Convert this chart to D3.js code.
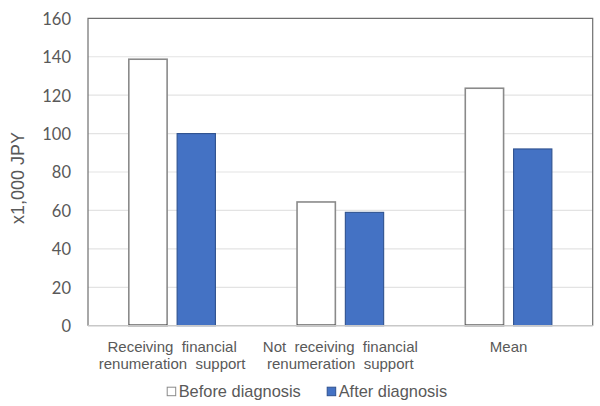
<!DOCTYPE html>
<html><head><meta charset="utf-8">
<script src="https://cdn.jsdelivr.net/npm/d3@7"></script>
<style>body{margin:0;background:#fff}svg{display:block}</style>
</head><body>
<script>
const categories = [["Receiving  financial","renumeration  support"],["Not  receiving  financial","renumeration  support"],["Mean"]];
const categoryKeys = ["Receiving","NotReceiving","Mean"];
const seriesNames = ["Before diagnosis","After diagnosis"];
const beforeValues = [138.7, 64.4, 123.6];
const afterValues = [100.0, 59.0, 92.0];
const yTicks = [0,20,40,60,80,100,120,140,160];
const yTitle = "x1,000 JPY";

const W=600,H=406;
const svg=d3.select("body").append("svg").attr("width",W).attr("height",H);
const L=88,R=592.7,T=18.3,B=325.7;
const y=d3.scaleLinear().domain([0,160]).range([B,T]);
const x0=d3.scaleBand().domain(categoryKeys).range([L,R]).paddingInner(0).paddingOuter(0);
const x1=d3.scaleBand().domain(seriesNames).range([0,x0.bandwidth()]).paddingInner(0.207).paddingOuter(0.845);
const textCol="#595959";

// gridlines
svg.append("g").selectAll("line").data(yTicks.filter(d=>d>0&&d<160)).join("line")
 .attr("x1",L).attr("x2",R).attr("y1",d=>y(d)).attr("y2",d=>y(d))
 .attr("stroke","#e3e3e3").attr("stroke-width",1.2);

// y tick labels via axis
const ya=svg.append("g").attr("transform",`translate(${L},0)`)
 .call(d3.axisLeft(y).tickValues(yTicks).tickSize(0).tickPadding(17));
ya.select(".domain").remove();
ya.selectAll("text").attr("font-family","Lato, 'Open Sans', sans-serif").attr("font-size",16.5).attr("fill",textCol).attr("dy","0.36em");

// bars
const data=categoryKeys.map((k,i)=>({k,vals:[{s:seriesNames[0],v:beforeValues[i]},{s:seriesNames[1],v:afterValues[i]}]}));
const g=svg.append("g").selectAll("g").data(data).join("g").attr("transform",d=>`translate(${x0(d.k)},0)`);
g.selectAll("rect").data(d=>d.vals).join("rect")
 .attr("x",d=>x1(d.s)).attr("width",x1.bandwidth())
 .attr("y",d=>y(d.v)).attr("height",d=>y(0)-y(d.v))
 .attr("fill",d=>d.s===seriesNames[0]?"#ffffff":"#4472C4")
 .attr("stroke",d=>d.s===seriesNames[0]?"#8a8a8a":"#2F528F")
 .attr("stroke-width",d=>d.s===seriesNames[0]?1.6:1.1);
// dark bottom edge of white bars
g.selectAll("line.bb").data(d=>[d.vals[0]]).join("line").attr("class","bb")
 .attr("x1",d=>x1(d.s)).attr("x2",d=>x1(d.s)+x1.bandwidth())
 .attr("y1",y(0)-0.5).attr("y2",y(0)-0.5).attr("stroke","#222").attr("stroke-width",1.2);

// plot border
svg.append("path").attr("d",`M${L},${B}V${T}H${R}V${B}`).attr("fill","none").attr("stroke","#6f6f6f").attr("stroke-width",1.2);
svg.append("line").attr("x1",L).attr("x2",R).attr("y1",B).attr("y2",B).attr("stroke","#c8c8c8").attr("stroke-width",1.6);

// category labels
const cl=svg.append("g");
categoryKeys.forEach((k,i)=>{
  const t=cl.append("text").attr("x",x0(k)+x0.bandwidth()/2).attr("y",351.5)
   .attr("text-anchor","middle").attr("font-family","Arial, 'Liberation Sans', sans-serif")
   .attr("font-size",15).attr("fill",textCol).style("white-space","pre");
  categories[i].forEach((line,j)=>{
    t.append("tspan").attr("x",x0(k)+x0.bandwidth()/2).attr("dy",j===0?0:17.6).text(line);
  });
});

// y title
svg.append("text").attr("transform",`translate(24,178) rotate(-90)`).attr("text-anchor","middle")
 .attr("font-family","Arial, 'Liberation Sans', sans-serif").attr("font-size",18).attr("fill",textCol).text(yTitle);

// legend
const legX=[166.7,326.7];
seriesNames.forEach((s,i)=>{
  svg.append("rect").attr("x",legX[i]+0.5).attr("y",387.2).attr("width",8.5).attr("height",8.5)
   .attr("fill",i===0?"#fff":"#4472C4").attr("stroke",i===0?"#8a8a8a":"#2F528F").attr("stroke-width",1);
  svg.append("text").attr("x",legX[i]+12).attr("y",397.3).attr("font-family","Arial, 'Liberation Sans', sans-serif")
   .attr("font-size",16.4).attr("fill",textCol).text(s);
});
</script>
</body></html>
